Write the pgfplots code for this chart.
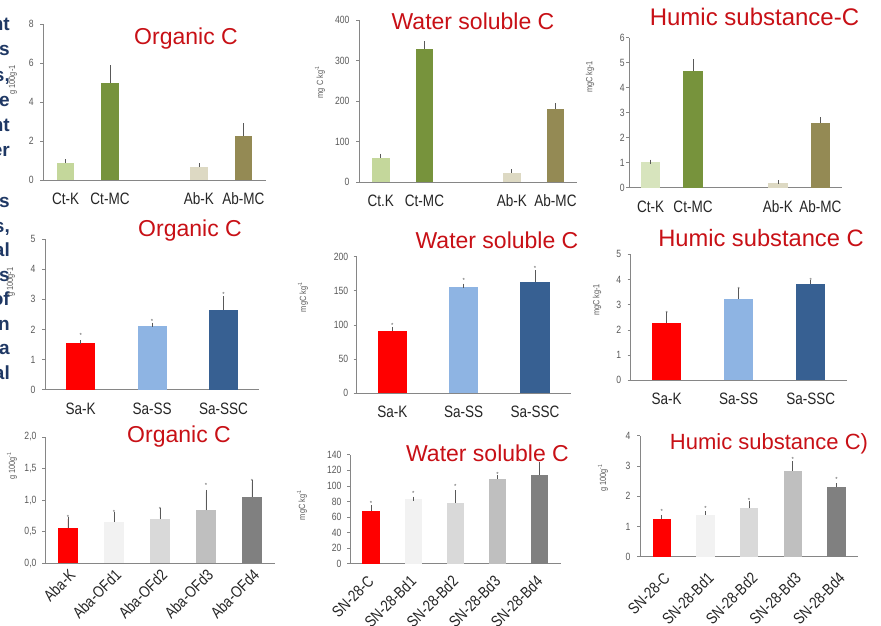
\documentclass[border=0pt]{standalone}
\usepackage{pgfplots}
\pgfplotsset{compat=1.18}
\usepackage{fontspec}
\setmainfont{Liberation Sans}
\newfontfamily\narrowfont{Liberation Sans}[FakeStretch=0.82]

\definecolor{ttl}{RGB}{200,16,22}
\definecolor{navy}{RGB}{31,56,100}
\definecolor{tickc}{RGB}{89,89,89}
\definecolor{labc}{RGB}{38,38,38}
\definecolor{axc}{RGB}{134,134,134}
\definecolor{ctk}{RGB}{196,215,155}
\definecolor{ctk2}{RGB}{215,228,189}
\definecolor{ctmc}{RGB}{119,147,60}
\definecolor{abk}{RGB}{221,217,195}
\definecolor{abmc}{RGB}{148,138,84}
\definecolor{sared}{RGB}{255,0,0}
\definecolor{sass}{RGB}{142,180,227}
\definecolor{sassc}{RGB}{55,96,146}
\definecolor{gA}{RGB}{242,242,242}
\definecolor{gB}{RGB}{217,217,217}
\definecolor{gC}{RGB}{191,191,191}
\definecolor{gD}{RGB}{128,128,128}

\pgfplotsset{
 panel/.style={
  scale only axis, anchor=south west,
  axis x line*=bottom, axis y line*=left,
  axis line style={draw=axc, line width=0.8pt},
  ymin=0, xtick style={draw=none},
  ytick style={draw=axc, line width=0.6pt}, tick align=outside, major tick length=3pt,
  yticklabel style={font=\narrowfont\fontsize{10.5}{12}\selectfont, text=tickc},
  /pgf/number format/assume math mode=true,
  clip=false,
 },
 toplab/.style={xticklabel style={font=\narrowfont\fontsize{16.5}{18}\selectfont, text=labc, anchor=base, yshift=-21.5pt}},
 rotlab/.style={xticklabel style={font=\narrowfont\fontsize{16}{18}\selectfont, text=labc, rotate=45, anchor=north east}},
 bar/.style={ybar, bar width=#1, bar shift=0pt, draw=none,
   error bars/y dir=plus, error bars/y explicit,
   error bars/error bar style={draw=black!65, line width=0.8pt},
   error bars/error mark options={draw=black!65, line width=0.8pt, mark size=2pt}},
 star/.style={only marks, mark=none, nodes near coords={*},
   nodes near coords style={font=\fontsize{6}{6}\selectfont, text=tickc, anchor=center, inner sep=0pt}},
}

\newcommand{\ttlfont}[1]{\fontsize{#1}{#1}\selectfont}
\newcommand{\ylab}{\narrowfont\fontsize{9}{10}\selectfont}

\begin{document}
\begin{tikzpicture}[x=1pt,y=1pt]
\useasboundingbox (0,0) rectangle (881,626);
\clip (0,0) rectangle (881,626);
\fill[white] (0,0) rectangle (881,626);

% left cut-off text
\foreach \t/\b in {nt/31,us/56,{s,}/81.5,e/106.5,nt/132,er/157,s/208,{s,}/232.5,al/257,s/281.5,of/306,n/330.5,a/355,al/379.5}{
  \node[anchor=base east, inner sep=0pt, font=\bfseries\fontsize{19}{22}\selectfont, text=navy] at (10,626-\b) {\t};
}

% ---------- Panel 1 ----------
\begin{axis}[panel, toplab, at={(43.3pt,445.7pt)}, width=222.4pt, height=156pt,
  xmin=-0.5, xmax=4.5, ymax=8, ytick={0,2,4,6,8},
  yticklabel style={xshift=-3pt},
  xtick={0,1,3,4}, xticklabels={Ct-K,Ct-MC,Ab-K,Ab-MC}]
\addplot[bar=0.4, fill=ctk] coordinates {(0,0.9) +- (0,0.07)};
\addplot[bar=0.4, fill=ctmc] coordinates {(1,5.0) +- (0,0.79)};
\addplot[bar=0.4, fill=abk] coordinates {(3,0.7) +- (0,0.07)};
\addplot[bar=0.4, fill=abmc] coordinates {(4,2.27) +- (0,0.55)};
\end{axis}
\node[anchor=base, font=\ttlfont{23}, text=ttl] at (186,626-45) {Organic C};
\node[rotate=90, font=\ylab, text=tickc] at (13,626-80) {g 100g-1};

% ---------- Panel 2 ----------
\begin{axis}[panel, toplab, at={(359pt,443.7pt)}, width=218.3pt, height=162pt,
  xmin=-0.5, xmax=4.5, ymax=400, ytick={0,100,200,300,400},
  yticklabel style={xshift=-3pt},
  xtick={0,1,3,4}, xticklabels={Ct.K,Ct-MC,Ab-K,Ab-MC}]
\addplot[bar=0.41, fill=ctk] coordinates {(0,60) +- (0,5)};
\addplot[bar=0.41, fill=ctmc] coordinates {(1,329) +- (0,14)};
\addplot[bar=0.41, fill=abk] coordinates {(3,23.7) +- (0,3.3)};
\addplot[bar=0.41, fill=abmc] coordinates {(4,181) +- (0,9)};
\end{axis}
\node[anchor=base, font=\ttlfont{23}, text=ttl] at (473,626-30) {Water soluble C};
\node[rotate=90, font=\ylab, text=tickc] at (320,626-82) {mg C kg\textsuperscript{-1}};

% ---------- Panel 3 ----------
\begin{axis}[panel, toplab, at={(629.3pt,438.3pt)}, width=212.4pt, height=150pt,
  xmin=-0.5, xmax=4.5, ymax=6, ytick={0,1,2,3,4,5,6},
  yticklabel style={xshift=2pt},
  xtick={0,1,3,4}, xticklabels={Ct-K,Ct-MC,Ab-K,Ab-MC}]
\addplot[bar=0.45, fill=ctk2] coordinates {(0,1.01) +- (0,0.03)};
\addplot[bar=0.45, fill=ctmc] coordinates {(1,4.67) +- (0,0.38)};
\addplot[bar=0.45, fill=abk] coordinates {(3,0.19) +- (0,0.02)};
\addplot[bar=0.45, fill=abmc] coordinates {(4,2.59) +- (0,0.14)};
\end{axis}
\node[anchor=base, font=\ttlfont{24}, text=ttl] at (754.5,626-26) {Humic substance-C};
\node[rotate=90, font=\ylab, text=tickc] at (590,626-77) {mgC kg-1};

% ---------- Panel 4 ----------
\begin{axis}[panel, toplab, at={(45pt,236.3pt)}, width=214.3pt, height=150.7pt,
  xmin=-0.5, xmax=2.5, ymax=5, ytick={0,1,2,3,4,5},
  yticklabel style={xshift=-3pt},
  xtick={0,1,2}, xticklabels={Sa-K,Sa-SS,Sa-SSC}]
\addplot[bar=0.41, fill=sared] coordinates {(0,1.54) +- (0,0.04)};
\addplot[bar=0.41, fill=sass] coordinates {(1,2.1) +- (0,0.06)};
\addplot[bar=0.41, fill=sassc] coordinates {(2,2.66) +- (0,0.38)};
\addplot[star] coordinates {(0,1.79) (1,2.28) (2,3.17)};
\end{axis}
\node[anchor=base, font=\ttlfont{23}, text=ttl] at (190,626-236.7) {Organic C};
\node[rotate=90, font=\ylab, text=tickc] at (11,626-282) {g 100g-1};

% ---------- Panel 5 ----------
\begin{axis}[panel, toplab, at={(356.7pt,233pt)}, width=214pt, height=136.3pt,
  xmin=-0.5, xmax=2.5, ymax=200, ytick={0,50,100,150,200},
  yticklabel style={xshift=-2pt},
  xtick={0,1,2}, xticklabels={Sa-K,Sa-SS,Sa-SSC}]
\addplot[bar=0.41, fill=sared] coordinates {(0,91.4) +- (0,2.6)};
\addplot[bar=0.41, fill=sass] coordinates {(1,155) +- (0,2.5)};
\addplot[bar=0.41, fill=sassc] coordinates {(2,163) +- (0,14)};
\addplot[star] coordinates {(0,98.7) (1,164.7) (2,182.3)};
\end{axis}
\node[anchor=base, font=\ttlfont{23}, text=ttl] at (497,626-248.3) {Water soluble C};
\node[rotate=90, font=\ylab, text=tickc] at (303,626-297) {mgC kg\textsuperscript{-1}};

% ---------- Panel 6 ----------
\begin{axis}[panel, toplab, at={(630.7pt,245.7pt)}, width=216pt, height=126pt,
  xmin=-0.5, xmax=2.5, ymax=5, ytick={0,1,2,3,4,5},
  yticklabel style={xshift=-3pt},
  xtick={0,1,2}, xticklabels={Sa-K,Sa-SS,Sa-SSC}]
\addplot[bar=0.41, fill=sared] coordinates {(0,2.27) +- (0,0.35)};
\addplot[bar=0.41, fill=sass] coordinates {(1,3.24) +- (0,0.33)};
\addplot[bar=0.41, fill=sassc] coordinates {(2,3.83) +- (0,0.07)};
\addplot[star] coordinates {(0,2.65) (1,3.6) (2,3.98)};
\end{axis}
\node[anchor=base, font=\ttlfont{23.7}, text=ttl] at (761,626-246.7) {Humic substance C};
\node[rotate=90, font=\ylab, text=tickc] at (597,626-300) {mgC kg-1};

% ---------- Panel 7 ----------
\begin{axis}[panel, rotlab, at={(45pt,62.7pt)}, width=230pt, height=126.3pt,
  xmin=-0.5, xmax=4.5, ymax=2, ytick={0,0.5,1,1.5,2},
  yticklabel style={xshift=-2pt, /pgf/number format/.cd, fixed, fixed zerofill, precision=1, use comma},
  xtick={0,1,2,3,4}, xticklabels={Aba-K,Aba-OFd1,Aba-OFd2,Aba-OFd3,Aba-OFd4},
  xticklabel style={xshift=2pt, yshift=2pt}]
\addplot[bar=0.44, fill=sared] coordinates {(0,0.56) +- (0,0.14)};
\addplot[bar=0.44, fill=gA] coordinates {(1,0.65) +- (0,0.13)};
\addplot[bar=0.44, fill=gB] coordinates {(2,0.70) +- (0,0.14)};
\addplot[bar=0.44, fill=gC] coordinates {(3,0.84) +- (0,0.29)};
\addplot[bar=0.44, fill=gD] coordinates {(4,1.05) +- (0,0.23)};
\addplot[star] coordinates {(0,0.72) (1,0.8) (2,0.85) (3,1.23) (4,1.3)};
\end{axis}
\node[anchor=base, font=\ttlfont{23}, text=ttl] at (179,626-442.3) {Organic C};
\node[rotate=90, font=\ylab, text=tickc] at (12,626-466) {g 100g\textsuperscript{-1}};

% ---------- Panel 8 ----------
\begin{axis}[panel, rotlab, at={(350pt,62.3pt)}, width=210.7pt, height=109pt,
  xmin=-0.5, xmax=4.5, ymax=140, ytick={0,20,40,60,80,100,120,140},
  yticklabel style={xshift=-2pt},
  xtick={0,1,2,3,4}, xticklabels={SN-28-C,SN-28-Bd1,SN-28-Bd2,SN-28-Bd3,SN-28-Bd4},
  xticklabel style={xshift=-5pt, yshift=1pt}]
\addplot[bar=0.41, fill=sared] coordinates {(0,67.7) +- (0,5.1)};
\addplot[bar=0.41, fill=gA] coordinates {(1,82.7) +- (0,1.0)};
\addplot[bar=0.41, fill=gB] coordinates {(2,78.4) +- (0,13.6)};
\addplot[bar=0.41, fill=gC] coordinates {(3,108.8) +- (0,2.2)};
\addplot[bar=0.41, fill=gD] coordinates {(4,114) +- (0,13.7)};
\addplot[star] coordinates {(0,77.6) (1,90.4) (2,99.8) (3,114.8)};
\end{axis}
\node[anchor=base, font=\ttlfont{23}, text=ttl] at (487.5,626-461.7) {Water soluble C};
\node[rotate=90, font=\ylab, text=tickc] at (302,626-505) {mgC kg\textsuperscript{-1}};

% ---------- Panel 9 ----------
\begin{axis}[panel, rotlab, at={(640pt,69.3pt)}, width=218.3pt, height=121pt,
  xmin=-0.5, xmax=4.5, ymax=4, ytick={0,1,2,3,4},
  yticklabel style={xshift=-3pt},
  xtick={0,1,2,3,4}, xticklabels={SN-28-C,SN-28-Bd1,SN-28-Bd2,SN-28-Bd3,SN-28-Bd4},
  xticklabel style={xshift=-4pt, yshift=-5.5pt}]
\addplot[bar=0.42, fill=sared] coordinates {(0,1.25) +- (0,0.07)};
\addplot[bar=0.42, fill=gA] coordinates {(1,1.38) +- (0,0.05)};
\addplot[bar=0.42, fill=gB] coordinates {(2,1.6) +- (0,0.19)};
\addplot[bar=0.42, fill=gC] coordinates {(3,2.84) +- (0,0.25)};
\addplot[bar=0.42, fill=gD] coordinates {(4,2.29) +- (0,0.08)};
\addplot[star] coordinates {(0,1.49) (1,1.58) (2,1.87) (3,3.22) (4,2.56)};
\end{axis}
\node[anchor=base, font=\ttlfont{22}, text=ttl] at (769,626-449.3) {Humic substance C)};
\node[rotate=90, font=\ylab, text=tickc] at (603,626-478) {g 100g\textsuperscript{-1}};

\end{tikzpicture}
\end{document}
